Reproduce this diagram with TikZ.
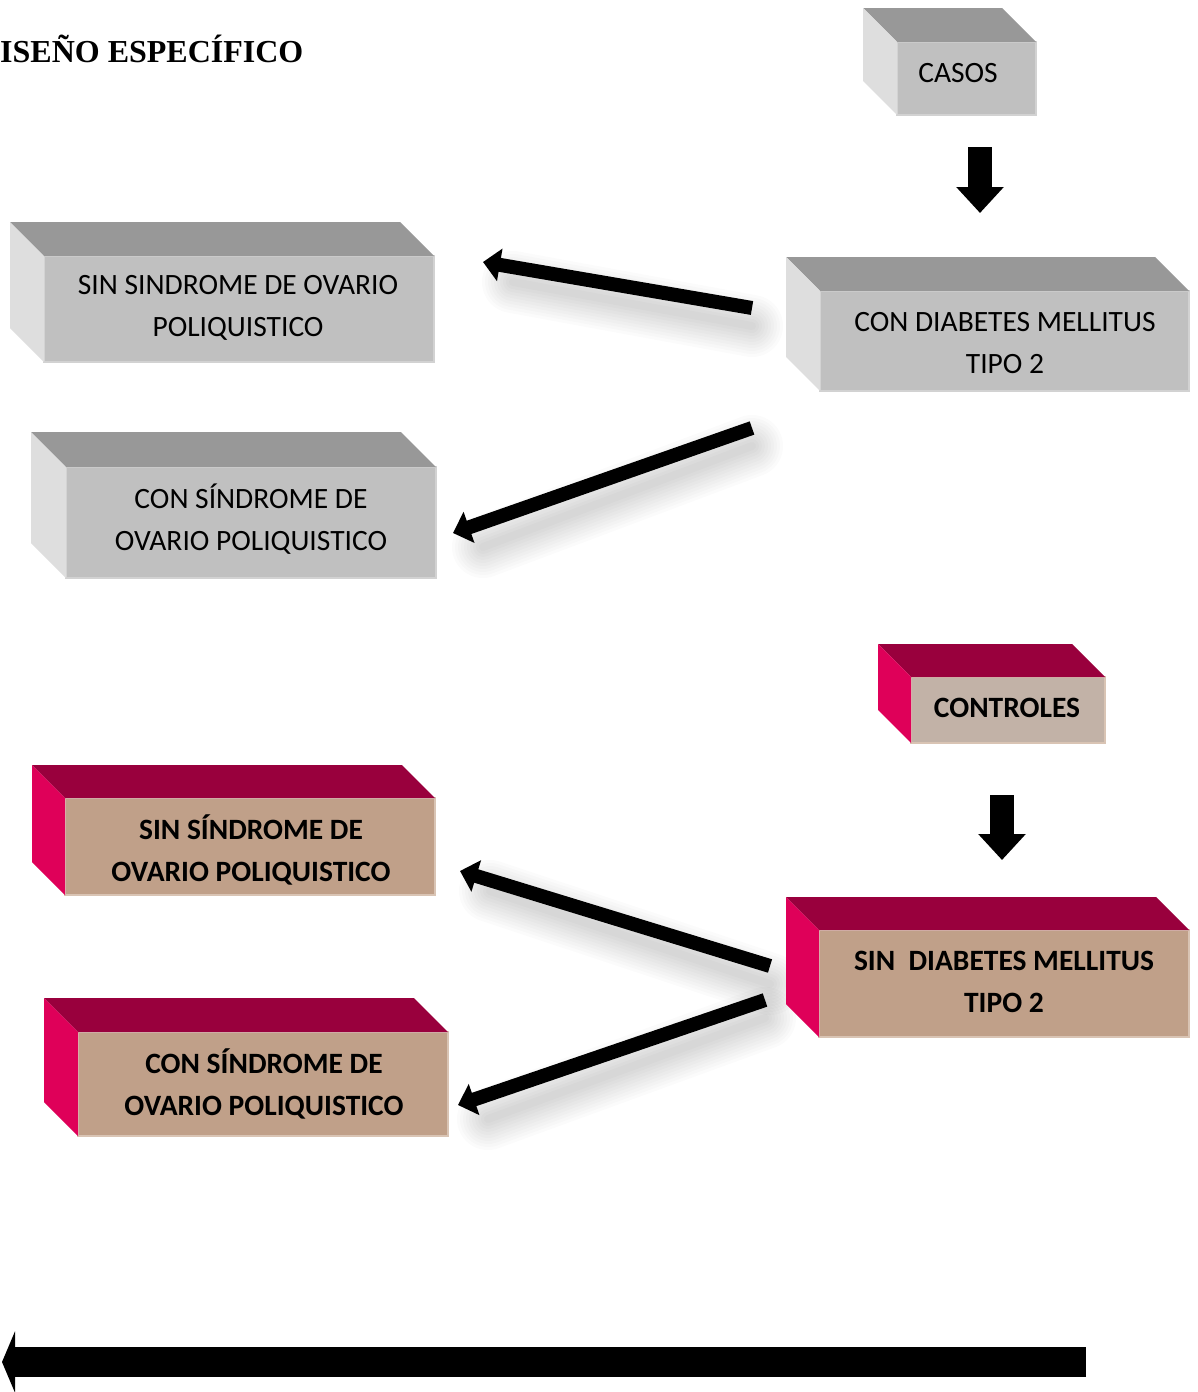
\documentclass[tikz,border=0pt]{standalone}
\usepackage{fontspec}
\setmainfont{Carlito}
\newfontfamily\titlefont{Liberation Serif}
\usetikzlibrary{arrows.meta,calc}
\definecolor{gfront}{HTML}{C0C0C0}
\definecolor{gtop}{HTML}{989898}
\definecolor{gleft}{HTML}{DEDEDE}
\definecolor{gedge}{HTML}{D2D2D2}
\definecolor{pfront}{HTML}{C0A089}
\definecolor{pfrontb}{HTML}{C2B2A7}
\definecolor{ptop}{HTML}{99003D}
\definecolor{pleft}{HTML}{DF0059}
\definecolor{pedge}{HTML}{D9C4B4}
\newcommand\cubefaces[4]{%
  \fill[#3] (#1.north west) -- ++(-#2,-#2) -- ($(#1.north east)+(-#2,-#2)$) -- (#1.north east) -- cycle;
  \fill[#4] (#1.north west) -- ++(-#2,-#2) -- ($(#1.south west)+(-#2,-#2)$) -- (#1.south west) -- cycle;
}
\tikzset{
  grayface/.style={fill=gfront, draw=gedge, line width=1.5pt, inner sep=0pt, outer sep=0pt, anchor=north west},
  tanface/.style={fill=pfront, draw=pedge, line width=1.5pt, inner sep=0pt, outer sep=0pt, anchor=north west},
  tanfaceb/.style={fill=pfrontb, draw=pedge, line width=1.5pt, inner sep=0pt, outer sep=0pt, anchor=north west},
  btext/.style={align=center, inner sep=0pt, font=\fontsize{29.5}{41.5}\selectfont},
  bbold/.style={align=center, inner sep=0pt, font=\bfseries\fontsize{29.5}{41.5}\selectfont},
  downarrow/.style={line width=24pt, -{Triangle[length=26pt,width=46pt]}},
  slantarrow/.style={line width=14pt, -{Triangle[length=17pt,width=32pt]}},
  bigarrow/.style={line width=30pt, -{Triangle[length=13pt,width=61pt]}},
  shadowline/.style={line width=#1, black, opacity=0.017, line cap=round},
}
\begin{document}
\begin{tikzpicture}[x=1pt,y=-1pt]
\useasboundingbox (0,0) rectangle (1197,1392);
\fill[white] (0,0) rectangle (1197,1392);

% title
\node[anchor=base west, inner sep=0pt, font=\titlefont\bfseries\fontsize{32}{38}\selectfont] (title) at (0,62) {ISEÑO ESPECÍFICO};

% connector ends
\coordinate (d1s) at (980,147); \coordinate (d1e) at (980,213);
\coordinate (d2s) at (1002,795); \coordinate (d2e) at (1002,860);
\coordinate (s1s) at (752,308); \coordinate (s1e) at (483,262);
\coordinate (s2s) at (752,428); \coordinate (s2e) at (453,533);
\coordinate (s3s) at (770,966); \coordinate (s3e) at (460,871);
\coordinate (s4s) at (765,1000); \coordinate (s4e) at (458,1105);
\coordinate (bs) at (1086,1362); \coordinate (be) at (2,1362);

% soft shadows of slanted arrows
\foreach \w in {8,14,...,62}{
  \draw[shadowline=\w pt] ($(s1s)+(0,18)$) -- ($(s1e)+(30,20)$);
  \draw[shadowline=\w pt] ($(s2s)+(0,18)$) -- ($(s2e)+(30,14)$);
  \draw[shadowline=\w pt] ($(s3s)+(0,18)$) -- ($(s3e)+(30,20)$);
  \draw[shadowline=\w pt] ($(s4s)+(0,18)$) -- ($(s4e)+(30,14)$);
}

% CASOS
\node[grayface, minimum width=139pt, minimum height=73pt] (casos) at (897,42) {};
\cubefaces{casos}{34}{gtop}{gleft}
\node[btext] (casos-t) at (958,73) {CASOS};

% CON DIABETES
\node[grayface, minimum width=369pt, minimum height=100pt] (cdm) at (820,291) {};
\cubefaces{cdm}{34}{gtop}{gleft}
\node[btext] (cdm-t) at (1005,343) {CON DIABETES MELLITUS\\TIPO 2};

% SIN SINDROME (gray)
\node[grayface, minimum width=390pt, minimum height=106pt] (ssop) at (44,256) {};
\cubefaces{ssop}{34}{gtop}{gleft}
\node[btext] (ssop-t) at (238,308) {SIN SINDROME DE OVARIO\\POLIQUISTICO};

% CON SINDROME (gray)
\node[grayface, minimum width=370pt, minimum height=111pt] (csop) at (66,467) {};
\cubefaces{csop}{35}{gtop}{gleft}
\node[btext] (csop-t) at (251,519) {CON SÍNDROME DE\\OVARIO POLIQUISTICO};

% CONTROLES
\node[tanfaceb, minimum width=194pt, minimum height=66pt] (ctrl) at (911,677) {};
\cubefaces{ctrl}{33}{ptop}{pleft}
\node[bbold] (ctrl-t) at (1007,708) {CONTROLES};

% SIN DIABETES
\node[tanface, minimum width=370pt, minimum height=107pt] (sdm) at (819,930) {};
\cubefaces{sdm}{33}{ptop}{pleft}
\node[bbold] (sdm-t) at (1004,982) {SIN\ \ DIABETES MELLITUS\\TIPO 2};

% SIN SINDROME (tan)
\node[tanface, minimum width=370pt, minimum height=97pt] (ssop2) at (65,798) {};
\cubefaces{ssop2}{33}{ptop}{pleft}
\node[bbold] (ssop2-t) at (251,850) {SIN SÍNDROME DE\\OVARIO POLIQUISTICO};

% CON SINDROME (tan)
\node[tanface, minimum width=370pt, minimum height=104pt] (csop2) at (78,1032) {};
\cubefaces{csop2}{34}{ptop}{pleft}
\node[bbold] (csop2-t) at (264,1084) {CON SÍNDROME DE\\OVARIO POLIQUISTICO};

\draw[downarrow] (d1s) -- (d1e);
\draw[downarrow] (d2s) -- (d2e);
\draw[slantarrow] (s1s) -- (s1e);
\draw[slantarrow] (s2s) -- (s2e);
\draw[slantarrow] (s3s) -- (s3e);
\draw[slantarrow] (s4s) -- (s4e);
\draw[bigarrow] (bs) -- (be);
\end{tikzpicture}
\end{document}
